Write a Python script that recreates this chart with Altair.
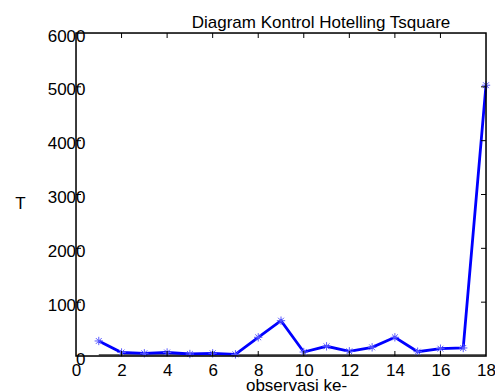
import altair as alt
import pandas as pd

TITLE = "Diagram Kontrol Hotelling Tsquare"
X_TITLE = "observasi ke-"
Y_TITLE = "T"

obs = list(range(1, 19))
tsq = [279, 65, 50, 65, 37, 50, 31, 347, 656, 74, 180, 87, 161, 347, 80, 136, 149, 5030]

base_x = [1, 18]
base_y = [25, 25]

x_ticks = [0, 2, 4, 6, 8, 10, 12, 14, 16, 18]
y_ticks = [0, 1000, 2000, 3000, 4000, 5000, 6000]
x_inner = [2, 4, 6, 8, 10, 12, 14, 16]
y_inner = [1000, 2000, 3000, 4000, 5000]

FONT = "Liberation Sans"
FS = 17
W, H = 410, 323

df = pd.DataFrame({"obs": obs, "T": tsq})
df_base = pd.DataFrame({"obs": base_x, "T": base_y})
df_xt = pd.DataFrame({"v": x_inner})
df_yt = pd.DataFrame({"v": y_inner})
df_title = pd.DataFrame({"t": [TITLE]})
df_one = pd.DataFrame({"k": [0]})

xs = alt.Scale(domain=[0, 18], nice=False, zero=False)
ys = alt.Scale(domain=[0, 6000], nice=False)

x_axis = alt.Axis(values=x_ticks, ticks=False, domain=False, grid=False, format="d",
                  labelPadding=6, labelFlush=False, labelOverlap=False,
                  labelFont=FONT, labelFontSize=FS, labelColor="black",
                  title=X_TITLE, titleFont=FONT, titleFontSize=FS,
                  titleFontWeight="normal", titleColor="black",
                  titleX=220, titleY=34, titleBaseline="alphabetic",
                  titleAnchor="start", titleAlign="center")
y_axis = alt.Axis(values=y_ticks, ticks=False, domain=False, grid=False, format="d",
                  labelPadding=-9, labelOffset=3, labelFlush=False,
                  labelOverlap=False, labelAlign="right",
                  labelFont=FONT, labelFontSize=FS, labelColor="black",
                  title=Y_TITLE, titleFont=FONT, titleFontSize=FS,
                  titleFontWeight="normal", titleColor="black",
                  titleAngle=0, titleX=-56, titleY=170,
                  titleAlign="center", titleBaseline="middle")

base_line = alt.Chart(df_base).mark_line(color="#666666", strokeWidth=1.5).encode(
    x=alt.X("obs:Q", scale=xs, axis=x_axis),
    y=alt.Y("T:Q", scale=ys, axis=y_axis),
)

line = alt.Chart(df).mark_line(color="#0000ff", strokeWidth=2.8).encode(
    x=alt.X("obs:Q", scale=xs),
    y=alt.Y("T:Q", scale=ys),
)

star = "M-1,0L1,0M0,-1L0,1M-0.7,-0.7L0.7,0.7M-0.7,0.7L0.7,-0.7"
pts = alt.Chart(df).mark_point(shape=star, filled=False, color="#5a5aff",
                               strokeWidth=1, size=70, opacity=1).encode(
    x=alt.X("obs:Q", scale=xs),
    y=alt.Y("T:Q", scale=ys),
)

tick_b = alt.Chart(df_xt).mark_rule(color="black", strokeWidth=1).encode(
    x=alt.X("v:Q", scale=xs), y=alt.value(H), y2=alt.value(H - 5))
tick_t = alt.Chart(df_xt).mark_rule(color="black", strokeWidth=1).encode(
    x=alt.X("v:Q", scale=xs), y=alt.value(0), y2=alt.value(5))
tick_l = alt.Chart(df_yt).mark_rule(color="black", strokeWidth=1).encode(
    y=alt.Y("v:Q", scale=ys), x=alt.value(0), x2=alt.value(5))
tick_r = alt.Chart(df_yt).mark_rule(color="black", strokeWidth=1).encode(
    y=alt.Y("v:Q", scale=ys), x=alt.value(W), x2=alt.value(W - 5))

frame = alt.Chart(df_one).mark_rect(filled=False, stroke="black", strokeWidth=1.5).encode(
    x=alt.value(0), x2=alt.value(W), y=alt.value(0), y2=alt.value(H))

title_txt = alt.Chart(df_title).mark_text(
    font=FONT, fontSize=FS, color="black", align="center", baseline="alphabetic"
).encode(text="t:N", x=alt.value(245), y=alt.value(-5))

chart = alt.layer(base_line, line, pts, tick_b, tick_t, tick_l, tick_r, frame, title_txt).properties(
    width=W, height=H,
    autosize=alt.AutoSizeParams(type="none"),
    padding={"left": 68, "top": 25, "right": 9, "bottom": 36},
).configure_view(stroke="transparent").configure(background="white")

chart.save("out.html", embed_options={"renderer": "svg", "actions": False})
